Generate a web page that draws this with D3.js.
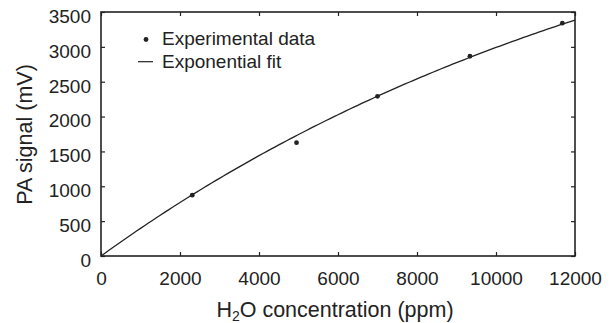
<!DOCTYPE html>
<html>
<head>
<meta charset="utf-8">
<script src="https://cdn.jsdelivr.net/npm/d3@7"></script>
<style>
  html, body { margin: 0; padding: 0; background: #fff; }
  svg { display: block; font-family: "Liberation Sans", Arial, sans-serif; }
</style>
</head>
<body>
<svg id="chart" width="612" height="323"></svg>
<script>
// Measured H2O concentration (ppm) and photoacoustic signal (mV)
const concentration = [2310, 4950, 7000, 9340, 11680];
const paSignal = [873, 1625, 2290, 2865, 3340];

// Exponential saturation fit: S = amplitude * (1 - exp(-c / scaleConc))
const fitAmplitude = 6147;
const fitScaleConc = 15000;

const xTicks = [0, 2000, 4000, 6000, 8000, 10000, 12000];
const yTicks = [0, 500, 1000, 1500, 2000, 2500, 3000, 3500];

const legendLabels = ["Experimental data", "Exponential fit"];

const svg = d3.select("#chart");
const plotL = 101, plotR = 575, plotT = 12, plotB = 256;

const x = d3.scaleLinear().domain([0, 12000]).range([plotL, plotR]);
const y = d3.scaleLinear().domain([0, 3500]).range([plotB, plotT]);

const ink = "#222";
const tickFont = 19, titleFont = 21.5;

// Axes with inward ticks on all four sides
const axisStyle = g => {
  g.select(".domain").remove();
  g.selectAll(".tick line").attr("stroke", ink).attr("stroke-width", 1.2);
  g.selectAll(".tick text").attr("fill", ink).attr("font-size", tickFont)
    .attr("font-family", "Liberation Sans, Arial, sans-serif");
};

svg.append("g").attr("transform", `translate(0,${plotB})`)
  .call(d3.axisBottom(x).tickValues(xTicks).tickFormat(d3.format("d")).tickSizeInner(-4).tickPadding(14))
  .call(axisStyle)
  .selectAll(".tick text").attr("dy", null).attr("y", 29);
svg.append("g").attr("transform", `translate(0,${plotT})`)
  .call(d3.axisTop(x).tickValues(xTicks).tickFormat("").tickSizeInner(-4))
  .call(axisStyle);
svg.append("g").attr("transform", `translate(${plotL},0)`)
  .call(d3.axisLeft(y).tickValues(yTicks).tickFormat(d3.format("d")).tickSizeInner(-4).tickPadding(10))
  .call(axisStyle)
  .selectAll(".tick text").attr("dy", 10.4);
svg.append("g").attr("transform", `translate(${plotR},0)`)
  .call(d3.axisRight(y).tickValues(yTicks).tickFormat("").tickSizeInner(-4))
  .call(axisStyle);

// Frame
svg.append("rect")
  .attr("x", plotL).attr("y", plotT)
  .attr("width", plotR - plotL).attr("height", plotB - plotT)
  .attr("fill", "none").attr("stroke", ink).attr("stroke-width", 1.6);

// Fit curve
const fitX = d3.range(0, 12000 + 1, 100);
const fitLine = d3.line()
  .x(c => x(c))
  .y(c => y(fitAmplitude * (1 - Math.exp(-c / fitScaleConc))));
svg.append("path")
  .datum(fitX)
  .attr("d", fitLine)
  .attr("fill", "none").attr("stroke", ink).attr("stroke-width", 1.3);

// Data points
svg.append("g").selectAll("circle")
  .data(concentration)
  .join("circle")
  .attr("cx", (c) => x(c))
  .attr("cy", (c, i) => y(paSignal[i]))
  .attr("r", 2.4)
  .attr("fill", ink);

// Legend
const lg = svg.append("g");
lg.append("circle").attr("cx", 146).attr("cy", 39.5).attr("r", 2.4).attr("fill", ink);
lg.append("line").attr("x1", 138).attr("x2", 153).attr("y1", 61.7).attr("y2", 61.7)
  .attr("stroke", ink).attr("stroke-width", 1.2);
lg.selectAll("text").data(legendLabels).join("text")
  .attr("x", 162).attr("y", (d, i) => 45 + i * 23.3)
  .attr("font-size", tickFont).attr("fill", ink)
  .text(d => d);

// Axis titles
const xt = svg.append("text")
  .attr("x", 335).attr("y", 316.5)
  .attr("text-anchor", "middle").attr("font-size", titleFont).attr("fill", ink);
xt.append("tspan").text("H");
xt.append("tspan").text("2").attr("font-size", 14).attr("dy", 4.5);
xt.append("tspan").text("O concentration (ppm)").attr("dy", -4.5);

svg.append("text")
  .attr("transform", `translate(32.3,134.5) rotate(-90)`)
  .attr("text-anchor", "middle").attr("font-size", titleFont).attr("fill", ink)
  .text("PA signal (mV)");
</script>
</body>
</html>
